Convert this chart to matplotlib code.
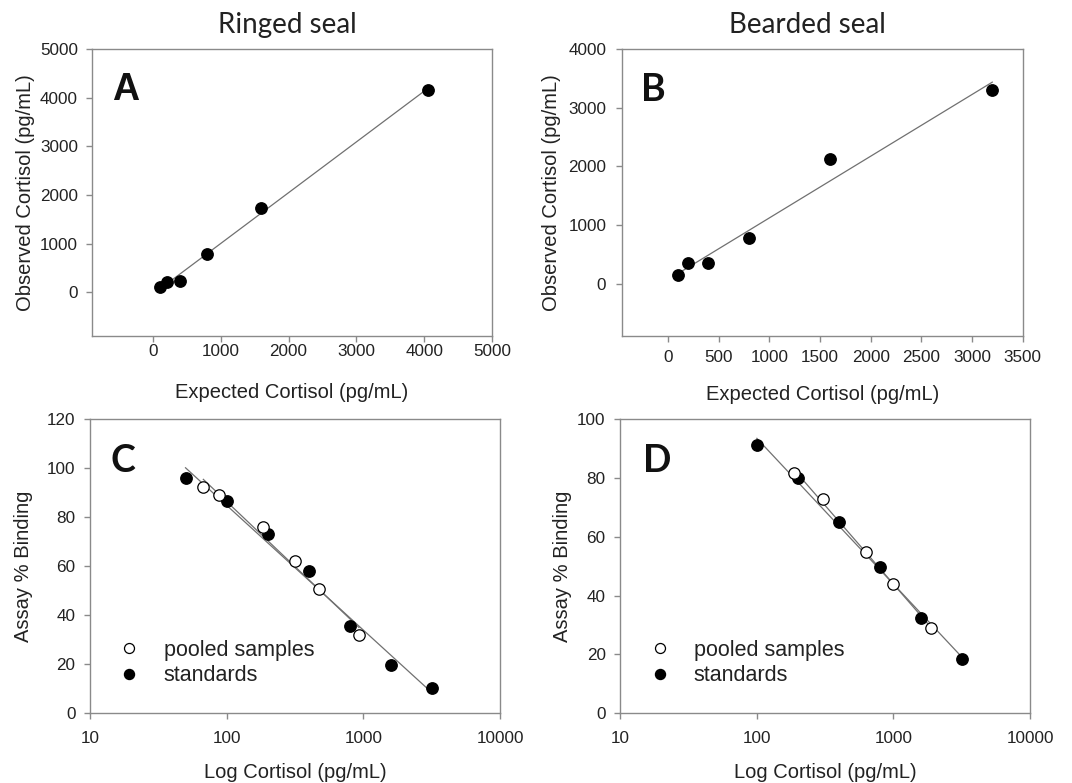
import numpy as np
import matplotlib
matplotlib.use("Agg")
import matplotlib.pyplot as plt
from matplotlib.lines import Line2D

# ---------------- data ----------------
ringed_expected = [100, 200, 400, 800, 1600, 4050]
ringed_observed = [100, 220, 230, 780, 1730, 4160]

bearded_expected = [100, 200, 400, 800, 1600, 3200]
bearded_observed = [150, 350, 360, 780, 2120, 3300]

ringed_std_x = [50, 100, 200, 400, 800, 1600, 3200]
ringed_std_y = [96.1, 86.6, 73.0, 57.9, 35.7, 19.6, 10.3]
ringed_pool_x = [67.5, 88, 183, 316, 476, 929]
ringed_pool_y = [92.4, 89.0, 76.0, 62.1, 50.7, 32.1]

bearded_std_x = [100, 200, 400, 800, 1600, 3200]
bearded_std_y = [91.2, 80.1, 65.0, 49.8, 32.3, 18.6]
bearded_pool_x = [187, 303, 625, 1000, 1884]
bearded_pool_y = [81.8, 72.8, 54.9, 43.9, 28.9]

# ---------------- style ----------------
plt.rcParams['font.family'] = ['Liberation Sans', 'DejaVu Sans']
SPINE = '#8a8a8a'
LINEC = '#707070'
TXT = '#222222'
TICK_FS = 12.3
LAB_FS = 14.5
MS = 8.2

fig = plt.figure(figsize=(10.72, 7.83), dpi=100)

def frame(ax):
    for s in ax.spines.values():
        s.set_color(SPINE)
        s.set_linewidth(1.0)
    ax.tick_params(colors=SPINE, labelcolor=TXT, length=4, width=1.0,
                   direction='out', labelsize=TICK_FS)
    ax.tick_params(which='minor', length=0)

def lin_fit(x, y):
    x = np.asarray(x, float); y = np.asarray(y, float)
    b, a = np.polyfit(x, y, 1)
    xx = np.array([x.min(), x.max()])
    return xx, a + b * xx

def log_fit(x, y):
    x = np.asarray(x, float); y = np.asarray(y, float)
    b, a = np.polyfit(np.log10(x), y, 1)
    xx = np.array([x.min(), x.max()])
    return xx, a + b * np.log10(xx)

# ---- Panel A ----
axA = fig.add_axes([92/1072, 1-336/783, 400/1072, 287/783])
xx, yy = lin_fit(ringed_expected, ringed_observed)
axA.plot(xx, yy, color=LINEC, lw=0.9, zorder=2)
axA.plot(ringed_expected, ringed_observed, 'o', color='black', ms=MS, zorder=3)
axA.set_xlim(-900, 5000); axA.set_ylim(-900, 5000)
axA.set_xticks([0, 1000, 2000, 3000, 4000, 5000])
axA.set_yticks([0, 1000, 2000, 3000, 4000, 5000])
frame(axA)
axA.tick_params(axis='x', pad=2)
axA.tick_params(axis='y', pad=6)
axA.set_xlabel('Expected Cortisol (pg/mL)', fontsize=LAB_FS, color=TXT, labelpad=17)
axA.set_ylabel('Observed Cortisol (pg/mL)', fontsize=LAB_FS, color=TXT, labelpad=4)
axA.text(0.05, 0.822, 'A', transform=axA.transAxes, fontsize=27, fontweight='bold',
         family='Liberation Sans', va='baseline', ha='left', color='#111111')

# ---- Panel B ----
axB = fig.add_axes([622.3/1072, 1-335.7/783, 400.4/1072, 286.7/783])
xx, yy = lin_fit(bearded_expected, bearded_observed)
axB.plot(xx, yy, color=LINEC, lw=0.9, zorder=2)
axB.plot(bearded_expected, bearded_observed, 'o', color='black', ms=MS, zorder=3)
axB.set_xlim(-450, 3500); axB.set_ylim(-880, 4000)
axB.set_xticks([0, 500, 1000, 1500, 2000, 2500, 3000, 3500])
axB.set_yticks([0, 1000, 2000, 3000, 4000])
frame(axB)
axB.tick_params(axis='x', pad=6)
axB.tick_params(axis='y', pad=7.5)
axB.set_xlabel('Expected Cortisol (pg/mL)', fontsize=LAB_FS, color=TXT, labelpad=15)
axB.set_ylabel('Observed Cortisol (pg/mL)', fontsize=LAB_FS, color=TXT, labelpad=5)
axB.text(0.047, 0.82, 'B', transform=axB.transAxes, fontsize=27, fontweight='bold',
         family=['Lato', 'DejaVu Sans'], va='baseline', ha='left', color='#111111')

# ---- Panel C ----
axC = fig.add_axes([90/1072, 1-713.3/783, 410/1072, 294.3/783])
xx, yy = log_fit(ringed_std_x, ringed_std_y)
axC.plot(xx, yy, color=LINEC, lw=0.9, zorder=2)
xx, yy = log_fit(ringed_pool_x, ringed_pool_y)
axC.plot(xx, yy, color=LINEC, lw=0.9, zorder=2)
axC.plot(ringed_std_x, ringed_std_y, 'o', color='black', ms=MS, zorder=3)
axC.plot(ringed_pool_x, ringed_pool_y, 'o', mfc='white', mec='black', mew=0.9, ms=MS, zorder=4)
axC.set_xscale('log')
axC.set_xlim(10, 10000); axC.set_ylim(0, 120)
axC.set_xticks([10, 100, 1000, 10000])
axC.set_xticklabels(['10', '100', '1000', '10000'])
axC.set_yticks([0, 20, 40, 60, 80, 100, 120])
frame(axC)
axC.tick_params(axis='x', pad=9)
axC.tick_params(axis='y', pad=6.5)
axC.set_xlabel('Log Cortisol (pg/mL)', fontsize=LAB_FS, color=TXT, labelpad=12)
axC.set_ylabel('Assay % Binding', fontsize=LAB_FS, color=TXT, labelpad=10)
axC.text(0.049, 0.82, 'C', transform=axC.transAxes, fontsize=27, fontweight='bold',
         family=['Lato', 'DejaVu Sans'], va='baseline', ha='left', color='#111111')

# ---- Panel D ----
axD = fig.add_axes([620.3/1072, 1-713.3/783, 409.7/1072, 294.3/783])
xx, yy = log_fit(bearded_std_x, bearded_std_y)
axD.plot(xx, yy, color=LINEC, lw=0.9, zorder=2)
xx, yy = log_fit(bearded_pool_x, bearded_pool_y)
axD.plot(xx, yy, color=LINEC, lw=0.9, zorder=2)
axD.plot(bearded_std_x, bearded_std_y, 'o', color='black', ms=MS, zorder=3)
axD.plot(bearded_pool_x, bearded_pool_y, 'o', mfc='white', mec='black', mew=0.9, ms=MS, zorder=4)
axD.set_xscale('log')
axD.set_xlim(10, 10000); axD.set_ylim(0, 100)
axD.set_xticks([10, 100, 1000, 10000])
axD.set_xticklabels(['10', '100', '1000', '10000'])
axD.set_yticks([0, 20, 40, 60, 80, 100])
frame(axD)
axD.tick_params(axis='x', pad=9)
axD.tick_params(axis='y', pad=6.5)
axD.set_xlabel('Log Cortisol (pg/mL)', fontsize=LAB_FS, color=TXT, labelpad=12)
axD.set_ylabel('Assay % Binding', fontsize=LAB_FS, color=TXT, labelpad=4)
axD.text(0.055, 0.82, 'D', transform=axD.transAxes, fontsize=27, fontweight='bold',
         family=['Lato', 'DejaVu Sans'], va='baseline', ha='left', color='#111111')

# legends
handles = [Line2D([], [], ls='none', marker='o', mfc='white', mec='black', mew=0.9, ms=7.2),
           Line2D([], [], ls='none', marker='o', color='black', ms=7.2)]
labels = ['pooled samples', 'standards']
for ax in (axC, axD):
    ax.legend(handles, labels, loc='lower left', bbox_to_anchor=(0.03, 0.056),
              frameon=False, fontsize=15.5, handletextpad=0.85, labelspacing=0.19,
              borderpad=0, handlelength=1.5, labelcolor=TXT)

# titles
fig.text(287/1072, 1-33.3/783, 'Ringed seal', fontsize=20, family=['Lato', 'DejaVu Sans'],
         ha='center', va='baseline', color=TXT)
fig.text(807.7/1072, 1-33.3/783, 'Bearded seal', fontsize=20, family=['Lato', 'DejaVu Sans'],
         ha='center', va='baseline', color=TXT)

fig.savefig('out.png', dpi=100)
